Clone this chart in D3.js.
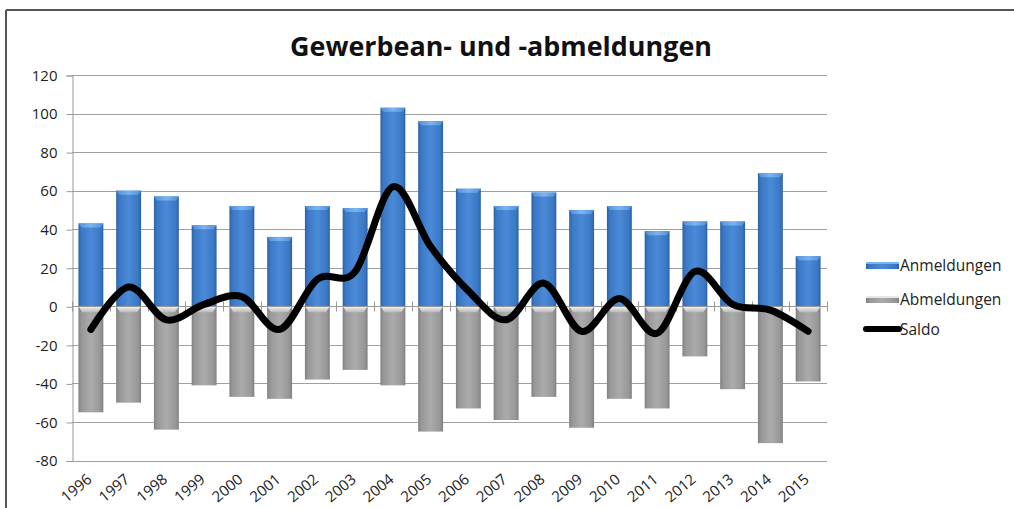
<!DOCTYPE html>
<html><head><meta charset="utf-8">
<script src="https://cdn.jsdelivr.net/npm/d3@7"></script>
<style>
body{margin:0;background:#fff;}
svg{display:block;font-family:"Open Sans",sans-serif;}
</style></head>
<body>
<svg id="chart" width="1014" height="508"></svg>
<script>
const years = ["1996","1997","1998","1999","2000","2001","2002","2003","2004","2005","2006","2007","2008","2009","2010","2011","2012","2013","2014","2015"];
const anmeldungen = [43,60,57,42,52,36,52,51,103,96,61,52,59,50,52,39,44,44,69,26];
const abmeldungen = [-55,-50,-64,-41,-47,-48,-38,-33,-41,-65,-53,-59,-47,-63,-48,-53,-26,-43,-71,-39];
const saldo = [-12,10,-7,1,5,-12,14,18,62,31,8,-7,12,-13,4,-14,18,1,-2,-13];
const yTicks = [-80,-60,-40,-20,0,20,40,60,80,100,120];
const seriesNames = ["Anmeldungen","Abmeldungen","Saldo"];
const title = "Gewerbean- und -abmeldungen";

(function(){
const svg = d3.select("#chart");
const W = 1014, H = 508;
const mLeft = 72, mRight = 827, mTop = 75, mBottom = 460.5;
const FONT = "'Open Sans',sans-serif";

const defs = svg.append("defs");
function hGrad(id, stops){
  const g = defs.append("linearGradient").attr("id", id).attr("x1","0").attr("x2","1").attr("y1","0").attr("y2","0");
  stops.forEach(s => g.append("stop").attr("offset", s[0]).attr("stop-color", s[1]));
}
hGrad("gBlue", [[0,"#2d62a3"],[0.12,"#3b78c4"],[0.5,"#4b8ad8"],[0.88,"#3b78c4"],[1,"#2d62a3"]]);
hGrad("gGrey", [[0,"#808080"],[0.12,"#979797"],[0.5,"#ababab"],[0.88,"#979797"],[1,"#808080"]]);
hGrad("gBlueTop", [[0,"#4f8fd6"],[0.5,"#7ab5f0"],[1,"#4f8fd6"]]);
const gt = defs.append("linearGradient").attr("id","gGreyTop").attr("x1","0").attr("x2","0").attr("y1","0").attr("y2","1");
gt.append("stop").attr("offset",0).attr("stop-color","#f4f4f4");
gt.append("stop").attr("offset",1).attr("stop-color","#b8b8b8");

// frame
svg.append("line").attr("x1",6).attr("x2",W).attr("y1",10).attr("y2",10).attr("stroke","#555").attr("stroke-width",2);
svg.append("line").attr("x1",6).attr("x2",6).attr("y1",10).attr("y2",H).attr("stroke","#555").attr("stroke-width",2);

const x = d3.scaleBand().domain(years).range([mLeft, mRight]).paddingInner(0.34).paddingOuter(0.17);
const y = d3.scaleLinear().domain([-80,120]).range([mBottom, mTop]);

// title
svg.append("text").attr("x", 501).attr("y", 56).attr("text-anchor","middle")
  .attr("font-size", 27).attr("font-weight", "bold").attr("fill","#111")
  .attr("textLength", 422).attr("lengthAdjust","spacingAndGlyphs")
  .style("font-family", FONT).text(title);

// gridlines
svg.append("g").selectAll("line").data(yTicks).join("line")
  .attr("x1", mLeft).attr("x2", mRight)
  .attr("y1", d => Math.round(y(d))+0.5).attr("y2", d => Math.round(y(d))+0.5)
  .attr("stroke", "#a0a0a0").attr("stroke-width", 1);

// y axis
const yAxis = d3.axisLeft(y).tickValues(yTicks).tickSize(6).tickPadding(9).tickFormat(d => String(d));
const ya = svg.append("g").attr("transform", `translate(${mLeft+0.5},0.5)`).call(yAxis);
ya.attr("font-size", null).attr("font-family", null);
ya.select(".domain").attr("stroke","#999");
ya.selectAll(".tick line").attr("stroke","#999");
ya.selectAll(".tick text").attr("font-size", 15).attr("fill","#222").style("font-family", FONT);

const bw = x.bandwidth();
// Anmeldungen bars
const gA = svg.append("g");
gA.selectAll("rect").data(years).join("rect")
  .attr("x", d => x(d)).attr("width", bw)
  .attr("y", (d,i) => y(anmeldungen[i])).attr("height", (d,i) => y(0) - y(anmeldungen[i]))
  .attr("fill", "url(#gBlue)");
gA.selectAll("path").data(years).join("path")
  .attr("d", (d,i) => {
    const x0 = x(d), yt = y(anmeldungen[i]);
    return `M${x0},${yt}L${x0+bw},${yt}L${x0+bw-3},${yt+4}L${x0+3},${yt+4}Z`;
  }).attr("fill","url(#gBlueTop)");

// Abmeldungen bars
const gB = svg.append("g");
gB.selectAll("rect").data(years).join("rect")
  .attr("x", d => x(d)).attr("width", bw)
  .attr("y", y(0)).attr("height", (d,i) => y(abmeldungen[i]) - y(0))
  .attr("fill", "url(#gGrey)");
gB.selectAll("path").data(years).join("path")
  .attr("d", (d) => {
    const x0 = x(d), yt = y(0);
    return `M${x0},${yt}L${x0+bw},${yt}L${x0+bw-4},${yt+6}L${x0+4},${yt+6}Z`;
  }).attr("fill","url(#gGreyTop)");

// x axis at zero with ticks between categories
const step = x.step();
const zy = Math.round(y(0)) + 0.5;
svg.append("line").attr("x1", mLeft).attr("x2", mRight).attr("y1", zy).attr("y2", zy).attr("stroke","#999");
const bounds = d3.range(years.length + 1).map(i => mLeft + i*step);
svg.append("g").selectAll("line").data(bounds).join("line")
  .attr("x1", d => Math.round(d)+0.5).attr("x2", d => Math.round(d)+0.5)
  .attr("y1", zy-5).attr("y2", zy+5).attr("stroke","#999");

// Saldo line
const line = d3.line().x((d,i) => x(years[i]) + bw/2).y(d => y(d)).curve(d3.curveCatmullRom.alpha(0));
svg.append("path").datum(saldo).attr("d", line)
  .attr("fill","none").attr("stroke","#000").attr("stroke-width", 7)
  .attr("stroke-linecap","round").attr("stroke-linejoin","round");

// x labels
svg.append("g").selectAll("text").data(years).join("text")
  .attr("transform", d => `translate(${x(d)+bw/2+2},${481}) rotate(-40)`)
  .attr("text-anchor","end").attr("font-size", 15).attr("fill","#222")
  .style("font-family", FONT)
  .text(d => d);

// legend
const lg = svg.append("g");
const lx = 866;
lg.append("rect").attr("x", lx).attr("y", 262).attr("width", 33).attr("height", 7).attr("fill","url(#gBlue)");
lg.append("rect").attr("x", lx).attr("y", 262).attr("width", 33).attr("height", 2).attr("fill","#7ab5f0");
lg.append("rect").attr("x", lx).attr("y", 296).attr("width", 33).attr("height", 7).attr("fill","url(#gGrey)");
lg.append("rect").attr("x", lx).attr("y", 296).attr("width", 33).attr("height", 2).attr("fill","#e8e8e8");
lg.append("line").attr("x1", lx).attr("x2", lx+33).attr("y1", 329).attr("y2", 329)
  .attr("stroke","#000").attr("stroke-width",6).attr("stroke-linecap","round");
lg.selectAll("text").data(seriesNames).join("text")
  .attr("x", lx+34).attr("y", (d,i) => [266, 300, 330][i]).attr("dy","0.35em")
  .attr("font-size", 15.5).attr("fill","#222").style("font-family", FONT)
  .text(d => d);
})();
</script>
</body></html>
